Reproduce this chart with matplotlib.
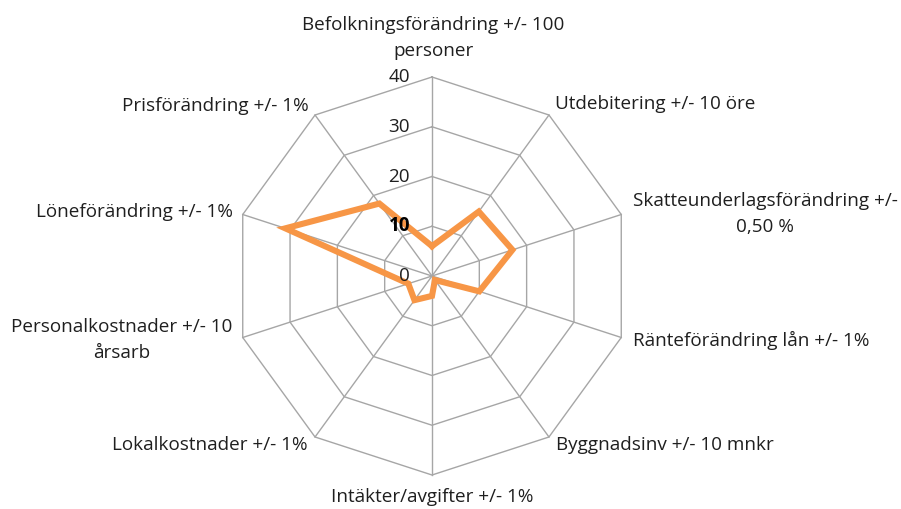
import numpy as np
import matplotlib
matplotlib.use("Agg")
import matplotlib.pyplot as plt

plt.rcParams['font.family'] = ['Open Sans', 'DejaVu Sans']

categories = ['Befolkningsförändring +/- 100\npersoner',
              'Utdebitering +/- 10 öre',
              'Skatteunderlagsförändring +/-\n0,50 %',
              'Ränteförändring lån +/- 1%',
              'Byggnadsinv +/- 10 mnkr',
              'Intäkter/avgifter +/- 1%',
              'Lokalkostnader +/- 1%',
              'Personalkostnader +/- 10\nårsarb',
              'Löneförändring +/- 1%',
              'Prisförändring +/- 1%']
values = [6, 16, 17, 10, 1, 4, 6, 5, 31, 18]
ticks = [0, 10, 20, 30, 40]

n = len(categories)
ang = np.arange(n) * 2 * np.pi / n

fig = plt.figure(figsize=(9.01, 5.09), dpi=100)
ax = fig.add_axes([0, 0, 1, 1])
# pixel -> data: 40 units = 199 px, centre at (432, 276)
s = 199 / 40
ax.set_xlim(-432 / s, (901 - 432) / s)
ax.set_ylim(-(509 - 276) / s, 276 / s)
ax.axis('off')

grid_c = '#a6a6a6'
for t in ticks[1:]:
    xs = np.append(t * np.sin(ang), t * np.sin(ang[0]))
    ys = np.append(t * np.cos(ang), t * np.cos(ang[0]))
    ax.plot(xs, ys, color=grid_c, lw=1, zorder=1)
for a in ang:
    ax.plot([0, 40 * np.sin(a)], [0, 40 * np.cos(a)], color=grid_c, lw=1, zorder=1)

v = np.array(values, dtype=float)
xs = np.append(v * np.sin(ang), v[0] * np.sin(ang[0]))
ys = np.append(v * np.cos(ang), v[0] * np.cos(ang[0]))
ax.plot(xs, ys, color='#F79646', lw=4.4, solid_joinstyle='miter', zorder=3)

txt_c = '#1f1f1f'
fs = 13.6
for t in ticks:
    ax.text(-22 / s, t, str(t), ha='right', va='center', fontsize=fs,
            color='black' if t == 10 else txt_c,
            fontweight='bold' if t == 10 else 'normal', zorder=4)

def px(x, y):
    return (x - 432) / s, (276 - y) / s

label_pos = [
    (433, 38, 'center'),
    (555, 104, 'left'),
    (765, 214, 'center'),
    (633, 340, 'left'),
    (556, 445, 'left'),
    (432, 497, 'center'),
    (308, 445, 'right'),
    (122, 340, 'center'),
    (233, 212, 'right'),
    (309, 106, 'right'),
]
for lab, (x, y, ha) in zip(categories, label_pos):
    dx, dy = px(x, y)
    ax.text(dx, dy, lab, ha=ha, va='center', multialignment='center',
            fontsize=fs, color=txt_c, linespacing=1.55)

plt.savefig('out.png', dpi=100)
